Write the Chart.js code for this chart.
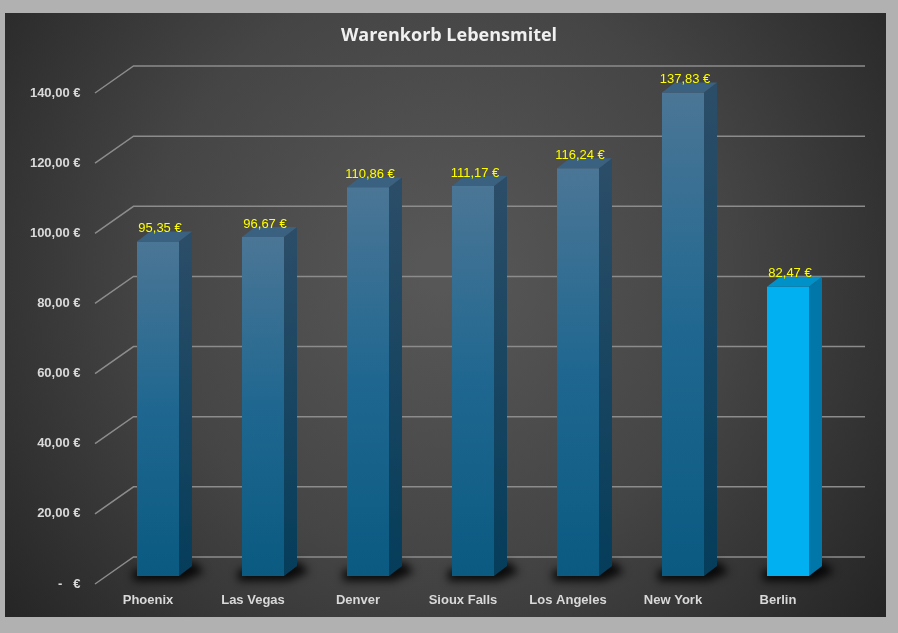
<!DOCTYPE html>
<html><head><meta charset="utf-8">
<script src="https://cdn.jsdelivr.net/npm/chart.js@4.4.1/dist/chart.umd.min.js"></script>
<style>html,body{margin:0;padding:0;background:#b1b1b1;overflow:hidden}#wrap{width:898px;height:633px;position:relative}</style>
</head><body><div id="wrap"><canvas id="c" width="898" height="633"></canvas></div>
<script>
const chartTitle = 'Warenkorb Lebensmitel';
const categories = ['Phoenix', 'Las Vegas', 'Denver', 'Sioux Falls', 'Los Angeles', 'New York', 'Berlin'];
const prices = [95.35, 96.67, 110.86, 111.17, 116.24, 137.83, 82.47];
const yTicks = [0, 20, 40, 60, 80, 100, 120, 140];
const highlightCategory = 'Berlin';

function fmtEuro(v) {
  if (v === 0) return '-   €';
  return v.toFixed(2).replace('.', ',') + ' €';
}
function hasFont(name) {
  const c = document.createElement('canvas').getContext('2d');
  c.font = '40px monospace';
  const a = c.measureText('abcdefghij0123').width;
  c.font = '40px "' + name + '", monospace';
  return c.measureText('abcdefghij0123').width !== a;
}
const narrow = hasFont('Liberation Sans Narrow');
const valueFont = narrow ? '15px "Liberation Sans Narrow"' : '13px "Liberation Sans"';

const DX = 13, DY = 10;

const frame3d = {
  id: 'frame3d',
  beforeDraw(chart) {
    const ctx = chart.ctx;
    ctx.save();
    ctx.fillStyle = '#b1b1b1';
    ctx.fillRect(0, 0, chart.width, chart.height);
    const g = ctx.createRadialGradient(440, 270, 20, 440, 270, 560);
    g.addColorStop(0, '#575757');
    g.addColorStop(0.5, '#454545');
    g.addColorStop(1, '#252525');
    ctx.fillStyle = g;
    ctx.fillRect(5, 13, 881, 604);
    ctx.restore();
  },
  beforeDatasetsDraw(chart) {
    const ctx = chart.ctx, y = chart.scales.y, a = chart.chartArea;
    ctx.save();
    ctx.strokeStyle = '#8c8c8c';
    ctx.lineWidth = 1.5;
    const fx = a.left - 10.5, bx = a.left + 28, ex = a.right + 24.5;
    yTicks.forEach(v => {
      const py = y.getPixelForValue(v);
      ctx.beginPath();
      ctx.moveTo(fx, py + 8);
      ctx.lineTo(bx, py - 19);
      ctx.lineTo(ex, py - 19);
      ctx.stroke();
    });
    // soft shadows under bars
    const meta = chart.getDatasetMeta(0);
    meta.data.forEach(el => {
      const l = el.x - el.width / 2, r = el.x + el.width / 2, b = el.base;
      ctx.save();
      ctx.filter = 'blur(4px)';
      ctx.fillStyle = 'rgba(0,0,0,0.85)';
      ctx.beginPath();
      ctx.moveTo(l - 4, b - 6);
      ctx.lineTo(r + DX + 2, b - DY - 4);
      ctx.lineTo(r + DX + 12, b - 4);
      ctx.lineTo(r + 4, b + 5);
      ctx.lineTo(l - 4, b + 5);
      ctx.closePath();
      ctx.fill();
      ctx.restore();
    });
    ctx.restore();
  },
  afterDatasetsDraw(chart) {
    const ctx = chart.ctx;
    const meta = chart.getDatasetMeta(0);
    ctx.save();
    meta.data.forEach((el, i) => {
      const l = el.x - el.width / 2, r = el.x + el.width / 2, t = el.y, b = el.base;
      const hi = categories[i] === highlightCategory;
      let sg;
      if (hi) { sg = '#0077a8'; }
      else {
        sg = ctx.createLinearGradient(0, t, 0, b);
        sg.addColorStop(0, '#2b4d68');
        sg.addColorStop(1, '#053d5a');
      }
      ctx.fillStyle = sg;
      ctx.beginPath();
      ctx.moveTo(r, t); ctx.lineTo(r + DX, t - DY); ctx.lineTo(r + DX, b - DY); ctx.lineTo(r, b);
      ctx.closePath(); ctx.fill();
      ctx.fillStyle = hi ? '#0091c9' : '#3a6180';
      ctx.beginPath();
      ctx.moveTo(l, t); ctx.lineTo(l + DX, t - DY); ctx.lineTo(r + DX, t - DY); ctx.lineTo(r, t);
      ctx.closePath(); ctx.fill();
      ctx.fillStyle = '#ffff00';
      ctx.font = valueFont;
      ctx.textAlign = 'center';
      ctx.textBaseline = 'middle';
      ctx.fillText(fmtEuro(prices[i]), el.x + 2, t - 13);
    });
    ctx.restore();
  }
};

new Chart(document.getElementById('c'), {
  type: 'bar',
  data: {
    labels: categories,
    datasets: [{
      data: prices,
      barPercentage: 0.4,
      categoryPercentage: 1,
      borderWidth: 0,
      backgroundColor: (c) => {
        if (categories[c.dataIndex] === highlightCategory) return '#00b0f0';
        const ch = c.chart, ys = ch.scales && ch.scales.y;
        if (!ys || !ch.chartArea) return '#1d6690';
        const top = ys.getPixelForValue(c.raw), bot = ys.getPixelForValue(0);
        const g = ch.ctx.createLinearGradient(0, top, 0, bot);
        g.addColorStop(0, '#4b7696');
        g.addColorStop(0.5, '#1f6790');
        g.addColorStop(1, '#0a5a82');
        return g;
      }
    }]
  },
  options: {
    responsive: false,
    animation: false,
    devicePixelRatio: 1,
    layout: { padding: 0 },
    plugins: {
      legend: { display: false },
      tooltip: { enabled: false },
      title: {
        display: true,
        text: chartTitle,
        color: '#f0f0f0',
        font: { family: '"Open Sans", "Liberation Sans", sans-serif', size: 18, weight: 'bold', lineHeight: 1.2 },
        padding: { top: 25, bottom: 38.4 }
      }
    },
    scales: {
      x: {
        grid: { display: false, drawTicks: false },
        border: { display: false },
        afterFit: s => { s.height = 57; },
        ticks: {
          color: '#d9d9d9',
          font: { family: '"Liberation Sans", Arial, sans-serif', size: 13, weight: 'bold' },
          padding: 17,
          labelOffset: -10,
          maxRotation: 0,
          autoSkip: false
        }
      },
      y: {
        min: 0, max: 140,
        grid: { display: false, drawTicks: false },
        border: { display: false },
        afterFit: s => { s.width = 105.5; },
        afterBuildTicks: s => { s.ticks = yTicks.map(v => ({ value: v })); },
        ticks: {
          color: '#d9d9d9',
          font: { family: '"Liberation Sans", Arial, sans-serif', size: 13, weight: 'bold' },
          padding: 25,
          labelOffset: 8,
          callback: v => fmtEuro(v)
        }
      },
      yRight: {
        position: 'right',
        min: 0, max: 140,
        grid: { display: false, drawTicks: false },
        border: { display: false },
        ticks: { display: false },
        afterFit: s => { s.width = 57.5; }
      }
    }
  },
  plugins: [frame3d]
});
</script>
</body></html>
